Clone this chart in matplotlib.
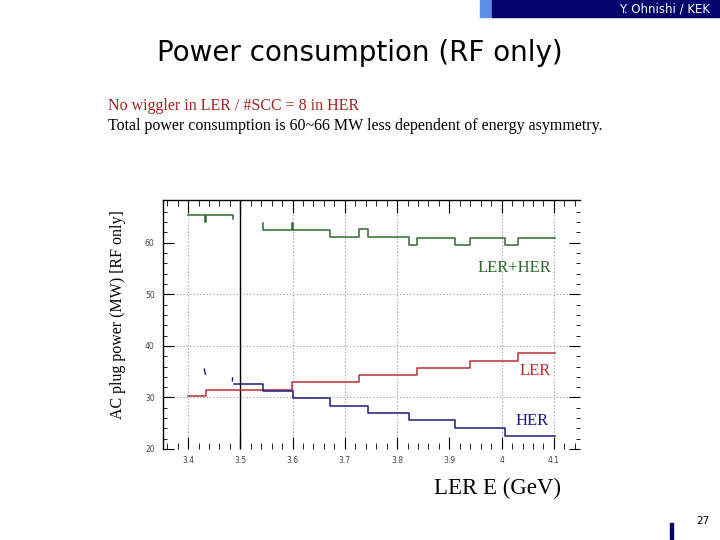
import matplotlib
matplotlib.use("Agg")
import matplotlib.pyplot as plt
import numpy as np

# LER+HER total (step data, NaN = gap)
total_x = [3.400, 3.432, 3.435, 3.485, 3.485, np.nan,
           3.543, 3.543, 3.599, 3.601, 3.672, 3.728, 3.744, 3.823, 3.839,
           3.910, 3.940, 4.006, 4.032, 4.102]
total_y = [65.4, 64.0, 65.4, 65.4, 64.7, np.nan,
           63.9, 62.5, 63.9, 62.5, 61.1, 62.6, 61.1, 59.55, 60.9,
           59.55, 60.9, 59.55, 60.9, 60.9]

ler_x = [3.400, 3.435, 3.599, 3.728, 3.839, 3.940, 4.032, 4.102]
ler_y = [30.2, 31.45, 32.9, 34.45, 35.7, 37.0, 38.6, 38.6]

her_x = [3.487, 3.543, 3.601, 3.672, 3.744, 3.823, 3.910, 4.006, 4.102]
her_y = [32.7, 31.3, 29.8, 28.4, 26.9, 25.6, 24.1, 22.6, 22.6]
# small leftover HER marks near 3.43 and 3.485
her_frag_x = [3.431, 3.433, np.nan, 3.485, 3.485]
her_frag_y = [35.5, 34.5, np.nan, 33.8, 33.2]

grid_x = [3.4, 3.6, 3.7, 3.8, 4.0, 4.1]
grid_y = [30, 40, 50]
x_ticks = [3.4, 3.5, 3.6, 3.7, 3.8, 3.9, 4.0, 4.1]
x_labels = ["3.4", "3.5", "3.6", "3.7", "3.8", "3.9", "4", "4.1"]
y_ticks = [20, 30, 40, 50, 60]

GREEN = "#2d6b2d"
RED = "#b83232"
NAVY = "#1c1c7a"
SERIF = "Liberation Serif"

fig = plt.figure(figsize=(7.2, 5.4), dpi=100)

# header bar
fig.patches.append(plt.Rectangle((480 / 720, 1 - 17 / 540), 12 / 720, 17 / 540,
                                 transform=fig.transFigure, color="#5b8fe8", zorder=0))
fig.patches.append(plt.Rectangle((492 / 720, 1 - 17 / 540), 228 / 720, 17 / 540,
                                 transform=fig.transFigure, color="#03036b", zorder=0))
fig.text(710 / 720, 1 - 9 / 540, "Y. Ohnishi / KEK", color="white", fontsize=8.5,
         ha="right", va="center")

fig.text(360 / 720, 1 - 53 / 540, "Power consumption (RF only)", fontsize=20,
         ha="center", va="center")
fig.text(108 / 720, 1 - 106 / 540, "No wiggler in LER / #SCC = 8 in HER",
         fontsize=11.5, color="#a52222", family=SERIF, va="center")
fig.text(108 / 720, 1 - 126 / 540,
         "Total power consumption is 60~66 MW less dependent of energy asymmetry.",
         fontsize=11.5, color="black", family=SERIF, va="center")

# page number
fig.patches.append(plt.Rectangle((670 / 720, 1 - 539 / 540), 3 / 720, 16 / 540,
                                 transform=fig.transFigure, color="#03036b"))
fig.text(703 / 720, 1 - 521 / 540, "27", fontsize=7.5, ha="center", va="center")

ax = fig.add_axes([163 / 720, 1 - 449 / 540, 417 / 720, 249 / 540])
ax.set_xlim(3.352, 4.15)
ax.set_ylim(20, 68.3)

for gx in grid_x:
    ax.axvline(gx, color="#999999", linestyle=(0, (1, 2)), linewidth=0.8, zorder=0)
for gy in grid_y:
    ax.axhline(gy, color="#999999", linestyle=(0, (1, 2)), linewidth=0.8, zorder=0)
ax.axvline(3.5, color="black", linewidth=1.0)

ax.plot(total_x, total_y, drawstyle="steps-post", color=GREEN, linewidth=1.1)
ax.plot(ler_x, ler_y, drawstyle="steps-post", color=RED, linewidth=1.1)
ax.plot(her_x, her_y, drawstyle="steps-post", color=NAVY, linewidth=1.1)
ax.plot(her_frag_x, her_frag_y, color=NAVY, linewidth=1.0)

ax.text(4.095, 55.1, "LER+HER", color=GREEN, fontsize=12, family=SERIF, ha="right", va="center")
ax.text(4.095, 35.2, "LER", color=RED, fontsize=12, family=SERIF, ha="right", va="center")
ax.text(4.09, 25.5, "HER", color=NAVY, fontsize=12, family=SERIF, ha="right", va="center")

ax.spines["right"].set_visible(False)
ax.spines["bottom"].set_visible(False)
ax.spines["left"].set_linewidth(1.0)
ax.spines["top"].set_linewidth(1.0)

ax.set_xticks(x_ticks)
ax.set_xticklabels(x_labels)
ax.set_xticks(np.arange(3.36, 4.15, 0.02), minor=True)
ax.set_yticks(y_ticks)
ax.set_yticks(np.arange(22, 68, 2), minor=True)
ax.tick_params(axis="both", which="both", direction="in", top=True, right=True,
               labelsize=5.5, labelcolor="#444444", color="black")
ax.tick_params(axis="x", which="major", length=9, pad=5)
ax.tick_params(axis="x", which="minor", length=4)
ax.tick_params(axis="y", which="major", length=8, pad=6)
ax.tick_params(axis="y", which="minor", length=3)

fig.text(497 / 720, 1 - 488 / 540, "LER E (GeV)", fontsize=16.5, family=SERIF,
         ha="center", va="center")
fig.text(118 / 720, 1 - 315 / 540, "AC plug power (MW) [RF only]", fontsize=11.5,
         family=SERIF, rotation=90, ha="center", va="center")

fig.savefig("out.png", dpi=100)
